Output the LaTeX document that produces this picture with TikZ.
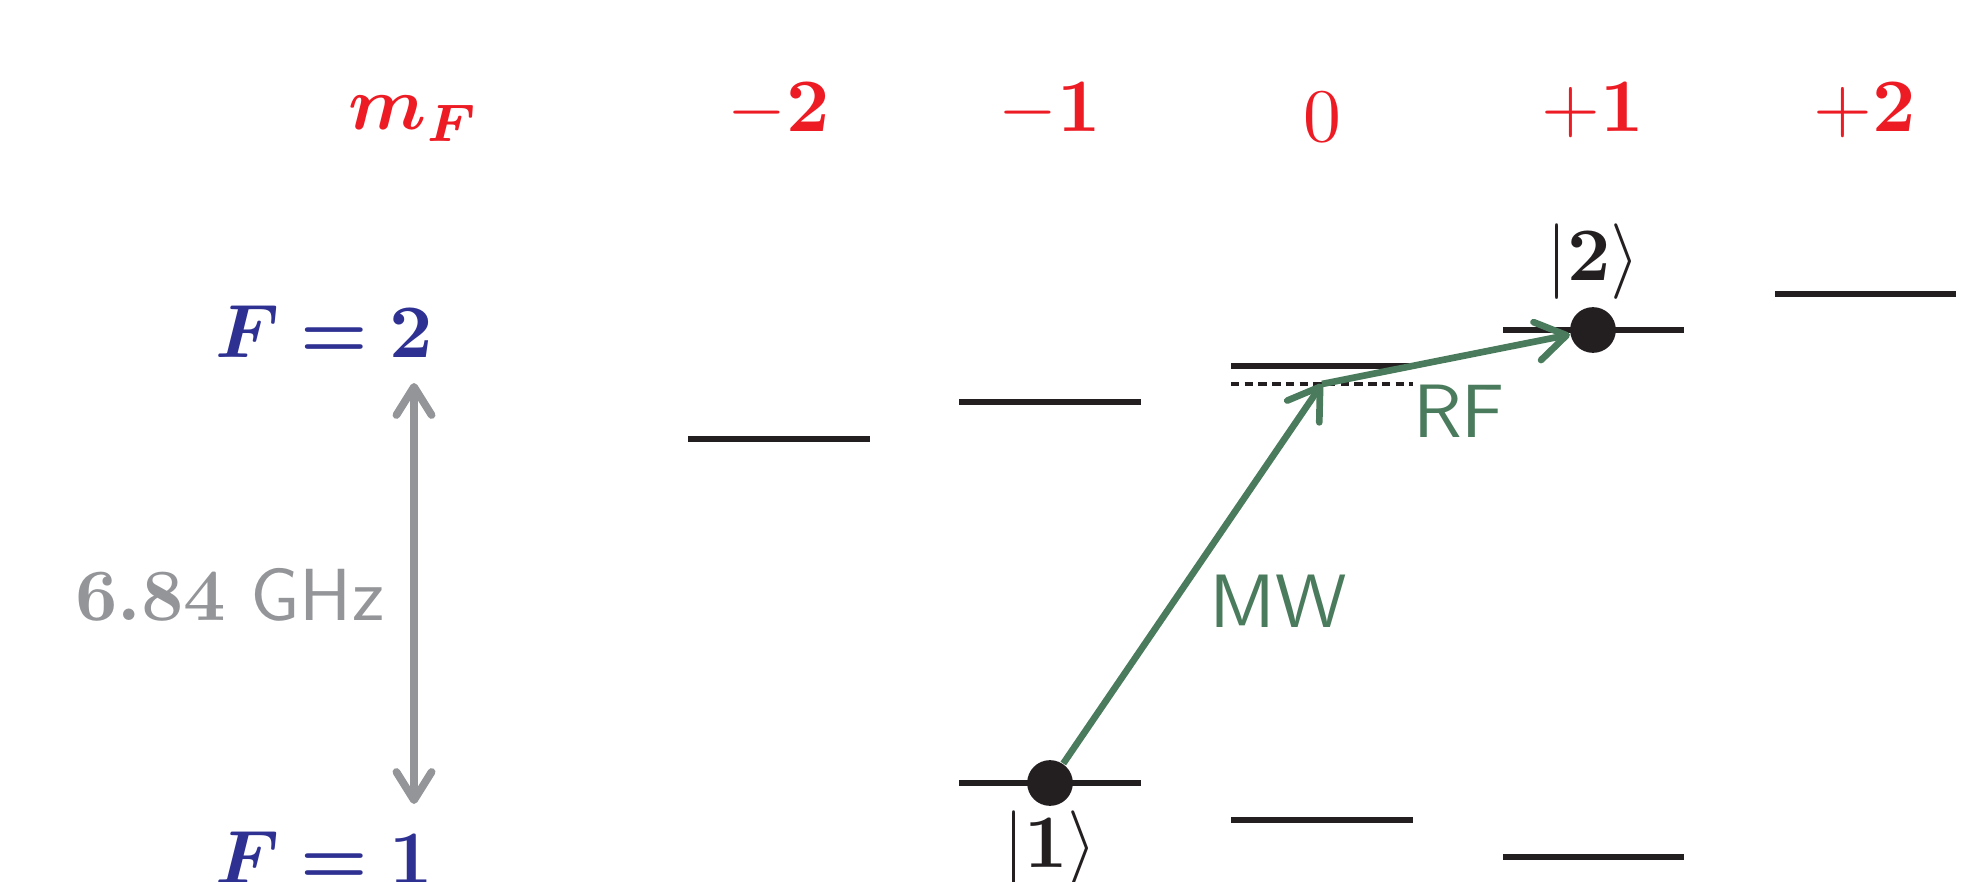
\documentclass[tikz,border=0pt]{standalone}
\usepackage{graphicx}
\usepackage{amsmath,bm}
\usetikzlibrary{arrows.meta}
\definecolor{cred}{RGB}{237,28,36}
\definecolor{cblue}{RGB}{46,49,146}
\definecolor{cgray}{RGB}{147,149,152}
\definecolor{cgreen}{RGB}{74,123,92}
\definecolor{cblack}{RGB}{35,31,32}
\newcommand{\sz}[1]{\scalebox{2.15}{#1}}
\begin{document}
\begin{tikzpicture}[x=0.01cm,y=-0.01cm,
  lev/.style={draw=cblack, line width=1.9pt},
  virt/.style={draw=cblack, line width=0.95pt, dash pattern=on 2.4pt off 1.5pt},
  dotnode/.style={circle, fill=cblack, inner sep=0pt, minimum size=13pt},
  lab/.style={inner sep=0pt, font=\normalsize},
  mflab/.style={lab, text=cred, anchor=base},
  flab/.style={lab, text=cblue, anchor=base},
  ketlab/.style={lab, text=cblack},
  trlab/.style={lab, text=cgreen, anchor=base},
  barb/.tip={Straight Barb[length=8.5pt,width=11pt,round]},
  gbarb/.tip={Straight Barb[length=8pt,width=10pt,round]},
  trans/.style={draw=cgreen, line width=1.9pt, -barb},
  split/.style={draw=cgray, line width=2.2pt, gbarb-gbarb}
]
\useasboundingbox (0,0) rectangle (1984,882);

% m_F row
\node[mflab] (mf) at (414,130) {\sz{$\boldsymbol{m_F}$}};
\node[mflab] (mm2) at (779,132) {\sz{$-\mathbf{2}$}};
\node[mflab] (mm1) at (1050,132) {\sz{$-\mathbf{1}$}};
\node[mflab] (m0) at (1322,142) {\sz{$0$}};
\node[mflab] (mp1) at (1593,132) {\sz{$+\mathbf{1}$}};
\node[mflab] (mp2) at (1865,132) {\sz{$+\mathbf{2}$}};

% F labels
\node[flab] (F2) at (324,357) {\sz{$\boldsymbol{F=2}$}};
\node[flab] (F1) at (324,883) {\sz{$\boldsymbol{F=1}$}};

% hyperfine splitting
\coordinate (gtop) at (414,383);
\coordinate (gbot) at (414,804);
\draw[split] (gtop) -- (gbot);
\node[lab, text=cgray, anchor=base east] (ghz) at (385,620) {\scalebox{2.1}{\textbf{6.84}\ \textsf{GHz}}};

% F=2 levels
\draw[lev] (688,439) -- (870,439);
\draw[lev] (959,402) -- (1141,402);
\draw[lev] (1231,366) -- (1413,366);
\draw[lev] (1503,330) -- (1684,330);
\draw[lev] (1775,294) -- (1956,294);
% virtual level
\draw[virt] (1231,384) -- (1413,384);
% F=1 levels
\draw[lev] (959,783) -- (1141,783);
\draw[lev] (1231,820) -- (1413,820);
\draw[lev] (1503,857) -- (1684,857);

% states
\node[dotnode] (s1) at (1050,783) {};
\node[dotnode] (s2) at (1593,330) {};
\coordinate (v) at (1322,384);
\node[ketlab] (k2) at (1593,262) {\sz{$|\mathbf{2}\rangle$}};
\node[ketlab] (k1) at (1050,849) {\sz{$|\mathbf{1}\rangle$}};

% transitions
\draw[trans] (s1) -- (v);
\draw[trans] (v) -- (s2);
\node[trlab] (mw) at (1278,627) {\sz{\textsf{MW}}};
\node[trlab] (rf) at (1459,437) {\sz{\textsf{RF}}};
\end{tikzpicture}
\end{document}
